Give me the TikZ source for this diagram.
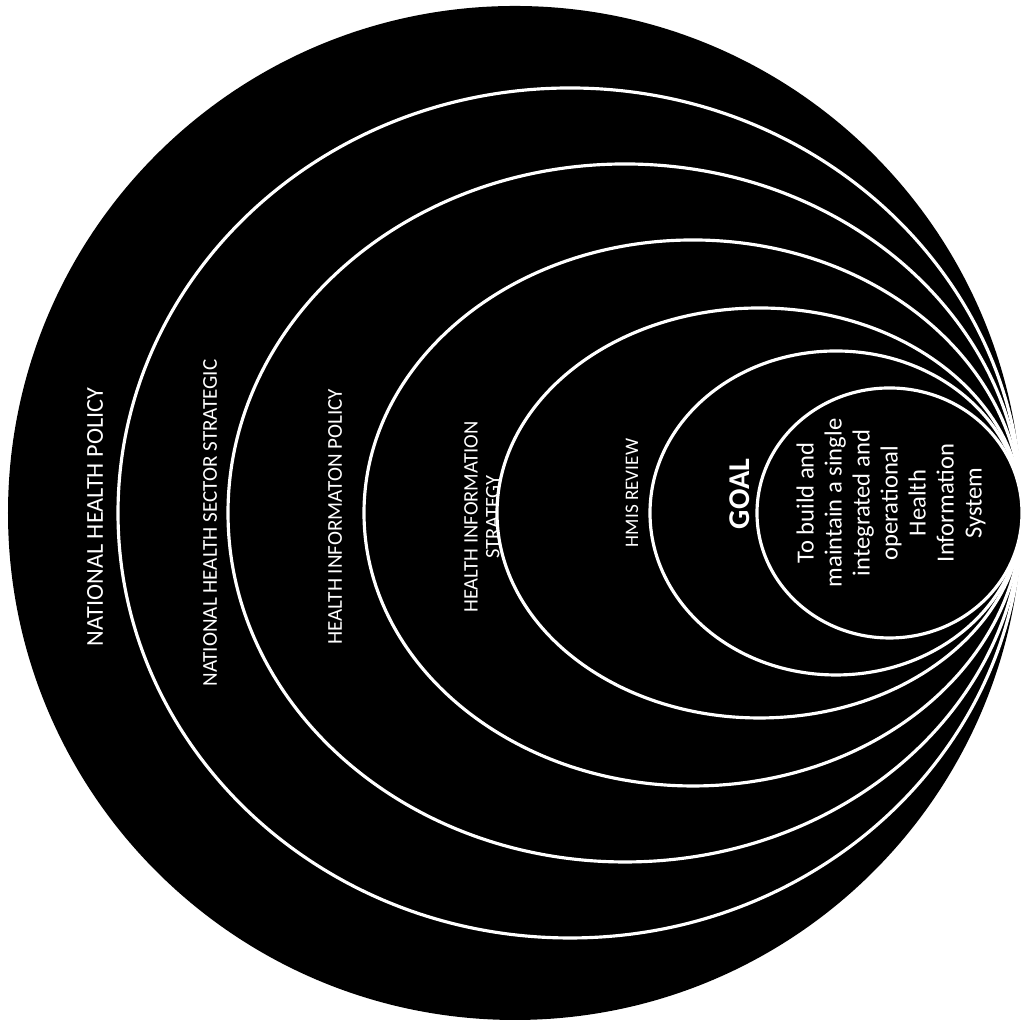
\documentclass[tikz,border=0pt]{standalone}
\usepackage{fontspec}
\setmainfont{Carlito}

\begin{document}
\begin{tikzpicture}[
  ring/.style={fill=black, draw=white, line width=0.9pt},
  lbl/.style={text=white, rotate=90, align=center, inner sep=0pt, font=\fontsize{#1}{6.2}\selectfont},
  lbl/.default=6,
  goalbox/.style={text=white, rotate=90, align=center, inner sep=0pt, font=\fontsize{8.6}{9}\selectfont\bfseries},
  aimbox/.style={text=white, rotate=90, align=center, inner sep=0pt, font=\fontsize{7}{7.97}\selectfont}
]
\useasboundingbox[fill=white] (0,0) rectangle (10.30,10.26);
\fill[black] (5.15,5.13) circle (5.07);
\draw[ring] (5.70,5.13) ellipse [x radius=4.52, y radius=4.25];
\node[lbl=6.9] (nhp) at (0.95,5.09) {NATIONAL HEALTH POLICY};
\draw[ring] (6.25,5.13) ellipse [x radius=3.97, y radius=3.49];
\node[lbl=6.0] (nhss) at (2.10,5.03) {NATIONAL HEALTH SECTOR STRATEGIC};
\draw[ring] (6.93,5.13) ellipse [x radius=3.29, y radius=2.73];
\node[lbl=6.0] (hip) at (3.35,5.09) {HEALTH INFORMATON POLICY};
\node[lbl=5.85] (his) at (4.82,5.09) {HEALTH INFORMATION\\STRATEGY};
\draw[ring] (7.595,5.13) ellipse [x radius=2.625, y radius=2.05];
\node[lbl=5.45] (hmis) at (6.32,5.33) {HMIS REVIEW};
\draw[ring] (8.36,5.13) ellipse [x radius=1.86, y radius=1.62];
\node[goalbox] (goal) at (7.40,5.32) {GOAL};
\draw[ring] (8.895,5.13) ellipse [x radius=1.325, y radius=1.25];
\node[aimbox] (aim) at (8.91,5.23) {To build and\\maintain a single\\integrated and\\operational\\Health\\Information\\System};
\end{tikzpicture}
\end{document}
